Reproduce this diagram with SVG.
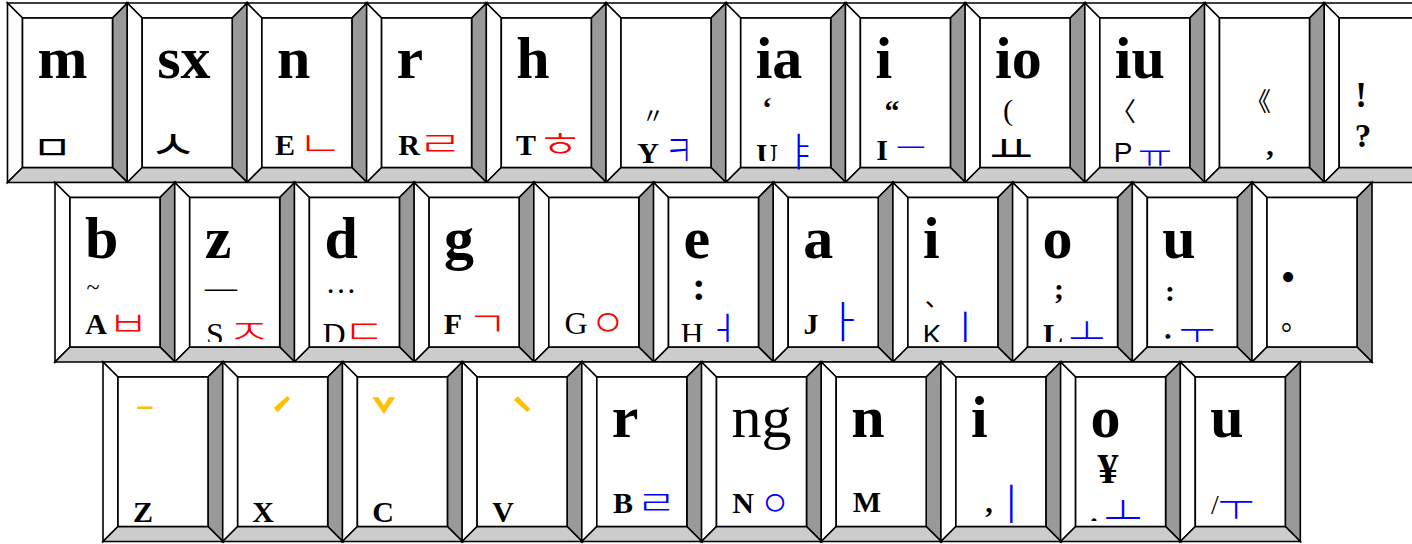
<svg xmlns="http://www.w3.org/2000/svg" xmlns:xlink="http://www.w3.org/1999/xlink" width="1412" height="544" viewBox="0 0 1412 544">
<style>
.bv{stroke:#000;stroke-width:1.6;stroke-linejoin:miter}
.w{fill:#fff}.d{fill:#999}.l{fill:#ccc}
.main{font-family:"Liberation Serif",serif;font-weight:bold;font-size:60px;fill:#000}
.reg{font-family:"Liberation Serif",serif;font-size:60px;fill:#000}
.b{font-family:"Liberation Serif",serif;font-weight:bold;font-size:30px;fill:#000;text-anchor:middle}
.r{font-family:"Liberation Serif",serif;font-size:32px;fill:#000;text-anchor:middle}
.s{font-family:"Liberation Sans",sans-serif;font-size:28px;fill:#000;text-anchor:middle}
.j{font-family:"Noto Sans CJK KR",sans-serif;font-weight:300;text-anchor:middle}
.jb{font-family:"Noto Sans CJK KR",sans-serif;font-weight:400;fill:#000;text-anchor:middle}
.red{fill:#f00}.blu{fill:#00f}
.cjk{font-family:"Noto Sans CJK SC",sans-serif;fill:#000;text-anchor:middle}
.tone{font-family:"Noto Sans CJK TC",sans-serif;font-weight:bold;font-size:40px;fill:#FFC000;text-anchor:middle}
</style>
<defs>
<g id="key">
<polygon class="bv w" points="0,0 120,0 105,15 15,15"/>
<polygon class="bv w" points="0,0 15,15 15,164.5 0,179.5"/>
<polygon class="bv d" points="120,0 120,179.5 105,164.5 105,15"/>
<polygon class="bv l" points="0,179.5 15,164.5 105,164.5 120,179.5"/>
<rect class="bv w" x="15" y="15" width="90" height="149.5"/>
</g>
<clipPath id="cU"><rect x="740" y="120" width="40" height="41"/></clipPath>
<clipPath id="cR2"><rect x="0" y="300" width="1412" height="42"/></clipPath>
<clipPath id="cR3"><rect x="1080" y="500" width="30" height="21"/></clipPath>
</defs>

<g id="row1">
<g id="k-m"><use xlink:href="#key" x="7.5" y="3"/><text class="main" x="37.5" y="78">m</text><text class="jb" font-size="34" transform="translate(52,147) scale(1.3,1)" y="13.3">ㅁ</text></g>
<g id="k-sx"><use xlink:href="#key" x="127.2" y="3"/><text class="main" x="157.2" y="78">sx</text><text class="jb" font-size="40" transform="translate(173,143) scale(1.3,1)" y="15.6" font-weight="300">ㅅ</text></g>
<g id="k-n"><use xlink:href="#key" x="246.9" y="3"/><text class="main" x="276.9" y="78">n</text><text class="b" x="285" y="155">E</text><text class="j red" font-size="34" transform="translate(320,143) scale(1.45,1)" y="13.3">ㄴ</text></g>
<g id="k-r"><use xlink:href="#key" x="366.6" y="3"/><text class="main" x="396.6" y="78">r</text><text class="b" x="409" y="155">R</text><text class="j red" font-size="34" transform="translate(440,143) scale(1.45,1)" y="13.3">ㄹ</text></g>
<g id="k-h"><use xlink:href="#key" x="486.3" y="3"/><text class="main" x="516.3" y="78">h</text><text class="b" x="526" y="155">T</text><text class="j red" font-size="36" transform="translate(560,143) scale(1.4,1)" y="14">ㅎ</text></g>
<g id="k-y"><use xlink:href="#key" x="606" y="3"/><text class="cjk" x="653" y="123" font-size="22">〃</text><text class="b" x="648" y="163">Y</text><text class="j blu" font-size="44" transform="translate(679,150) scale(0.7,1)" y="17.2">ㅋ</text></g>
<g id="k-ia"><use xlink:href="#key" x="725.7" y="3"/><text class="main" x="755.7" y="78">ia</text><text class="b" x="767" y="118">‘</text><g clip-path="url(#cU)"><text class="b" x="767" y="164">U</text></g><text class="j blu" font-size="40" transform="translate(801,150)" y="15.6">ㅑ</text></g>
<g id="k-i1"><use xlink:href="#key" x="845.4" y="3"/><text class="main" x="875.4" y="78">i</text><text class="b" x="892" y="121">“</text><text class="b" x="882" y="160">I</text><text class="j blu" font-size="33" transform="translate(911,147)" y="12.9">ㅡ</text></g>
<g id="k-io"><use xlink:href="#key" x="965.1" y="3"/><text class="main" x="995.1" y="78">io</text><text class="r" x="1008" y="120" style="font-size:30px">(</text><text class="jb" font-size="38" transform="translate(1011,148) scale(1.25,1)" y="14.8" font-weight="300">ㅛ</text></g>
<g id="k-iu"><use xlink:href="#key" x="1084.8" y="3"/><text class="main" x="1114.8" y="78">iu</text><text class="cjk" x="1123" y="121" font-size="26">〈</text><text class="s" x="1123" y="162">P</text><text class="j blu" font-size="34" transform="translate(1155,155) scale(1.1,1)" y="13.3">ㅠ</text></g>
<g id="k-comma"><use xlink:href="#key" x="1204.5" y="3"/><text class="cjk" x="1258" y="111" font-size="26">《</text><text class="b" x="1270" y="155">,</text></g>
<g id="k-excl"><use xlink:href="#key" x="1324.2" y="3"/><text class="b" x="1361" y="107" style="font-size:35px">!</text><text class="b" x="1363" y="147" style="font-size:33px">?</text></g>
</g>

<g id="row2">
<g id="k-b"><use xlink:href="#key" x="55" y="182.5"/><text class="main" x="85" y="258">b</text><text class="r" x="93" y="295" style="font-size:24px">~</text><text class="b" x="96" y="334">A</text><text class="j red" font-size="34" transform="translate(128,323) scale(1.3,1)" y="13.3">ㅂ</text></g>
<g id="k-z"><use xlink:href="#key" x="174.7" y="182.5"/><text class="main" x="204.7" y="258">z</text><text class="r" x="221" y="298">—</text><g clip-path="url(#cR2)"><text class="r" x="215" y="345">S</text></g><text class="j red" font-size="34" transform="translate(249,331) scale(1.45,1)" y="13.3">ㅈ</text></g>
<g id="k-d"><use xlink:href="#key" x="294.4" y="182.5"/><text class="main" x="324.4" y="258">d</text><text class="r" x="341" y="293" style="font-size:31px">…</text><g clip-path="url(#cR2)"><text class="r" x="334" y="345">D</text></g><text class="j red" font-size="32" transform="translate(364,330) scale(1.45,1)" y="12.5">ㄷ</text></g>
<g id="k-g"><use xlink:href="#key" x="414.1" y="182.5"/><text class="main" x="444.1" y="258">g</text><text class="b" x="453" y="334">F</text><text class="j red" font-size="34" transform="translate(487,323) scale(1.3,1)" y="13.3">ㄱ</text></g>
<g id="k-G"><use xlink:href="#key" x="533.8" y="182.5"/><text class="r" x="576" y="334">G</text><text class="j red" font-size="38" transform="translate(608,321)" y="14.8">ㅇ</text></g>
<g id="k-e"><use xlink:href="#key" x="653.5" y="182.5"/><text class="main" x="683.5" y="258">e</text><text class="b" x="699" y="300" style="font-size:40px">:</text><g clip-path="url(#cR2)"><text class="r" x="692" y="345">H</text><text class="j blu" font-size="40" transform="translate(724,330)" y="15.6">ㅓ</text></g></g>
<g id="k-a"><use xlink:href="#key" x="773.2" y="182.5"/><text class="main" x="803.2" y="258">a</text><text class="b" x="811" y="334">J</text><text class="j blu" font-size="44" transform="translate(844,321)" y="17.2">ㅏ</text></g>
<g id="k-i2"><use xlink:href="#key" x="892.9" y="182.5"/><text class="main" x="922.9" y="258">i</text><text class="cjk" x="937" y="306" font-size="24">、</text><g clip-path="url(#cR2)"><text class="s" x="932" y="344">K</text><text class="j blu" font-size="44" transform="translate(965,330)" y="17.2">ㅣ</text></g></g>
<g id="k-o"><use xlink:href="#key" x="1012.6" y="182.5"/><text class="main" x="1042.6" y="258">o</text><text class="b" x="1059" y="299">;</text><g clip-path="url(#cR2)"><text class="b" x="1053" y="344">L</text></g><text class="j blu" font-size="40" transform="translate(1087,331)" y="15.6">ㅗ</text></g>
<g id="k-u"><use xlink:href="#key" x="1132.3" y="182.5"/><text class="main" x="1162.3" y="258">u</text><text class="b" x="1170" y="301">:</text><g clip-path="url(#cR2)"><text class="b" x="1168" y="348">:</text><text class="j blu" font-size="40" transform="translate(1197,333)" y="15.6">ㅜ</text></g></g>
<g id="k-period"><use xlink:href="#key" x="1252" y="182.5"/><text class="r" x="1288" y="291" style="font-size:42px">•</text><text class="cjk" x="1295" y="330" font-size="28" fill="#555">。</text></g>
</g>

<g id="row3">
<g id="k-Z"><use xlink:href="#key" x="103" y="362"/><text class="tone" x="145" y="435">ˉ</text><text class="b" x="143" y="522">Z</text></g>
<g id="k-X"><use xlink:href="#key" x="222.7" y="362"/><text class="tone" x="282" y="430">ˊ</text><text class="b" x="263" y="522">X</text></g>
<g id="k-C"><use xlink:href="#key" x="342.4" y="362"/><text class="tone" x="384" y="430">ˇ</text><text class="b" x="383" y="522">C</text></g>
<g id="k-V"><use xlink:href="#key" x="462.1" y="362"/><text class="tone" x="522" y="430">ˋ</text><text class="b" x="503" y="522">V</text></g>
<g id="k-B"><use xlink:href="#key" x="581.8" y="362"/><text class="main" x="611.8" y="437">r</text><text class="b" x="623" y="513">B</text><text class="j blu" font-size="34" transform="translate(656,502) scale(1.3,1)" y="13.3">ㄹ</text></g>
<g id="k-N"><use xlink:href="#key" x="701.5" y="362"/><text class="reg" x="731.5" y="437">ng</text><text class="b" x="743" y="513">N</text><text class="j blu" font-size="35" transform="translate(775,502) scale(0.95,1)" y="13.7">ㅇ</text></g>
<g id="k-M"><use xlink:href="#key" x="821.2" y="362"/><text class="main" x="851.2" y="437">n</text><text class="b" x="867" y="512">M</text></g>
<g id="k-lt"><use xlink:href="#key" x="940.9" y="362"/><text class="main" x="970.9" y="437">i</text><text class="b" x="989" y="512">,</text><text class="j blu" font-size="44" transform="translate(1011,503)" y="17.2">ㅣ</text></g>
<g id="k-gt"><use xlink:href="#key" x="1060.6" y="362"/><text class="main" x="1090.6" y="437">o</text><text class="b" x="1108" y="483" style="font-size:42px">¥</text><g clip-path="url(#cR3)"><text class="b" x="1094" y="523">.</text></g><text class="j blu" font-size="42" transform="translate(1123,511)" y="16.4">ㅗ</text></g>
<g id="k-slash"><use xlink:href="#key" x="1180.3" y="362"/><text class="main" x="1210.3" y="437">u</text><text class="r" x="1215" y="514" style="font-size:28px">/</text><text class="j blu" font-size="40" transform="translate(1236,505)" y="15.6">ㅜ</text></g>
</g>
</svg>
